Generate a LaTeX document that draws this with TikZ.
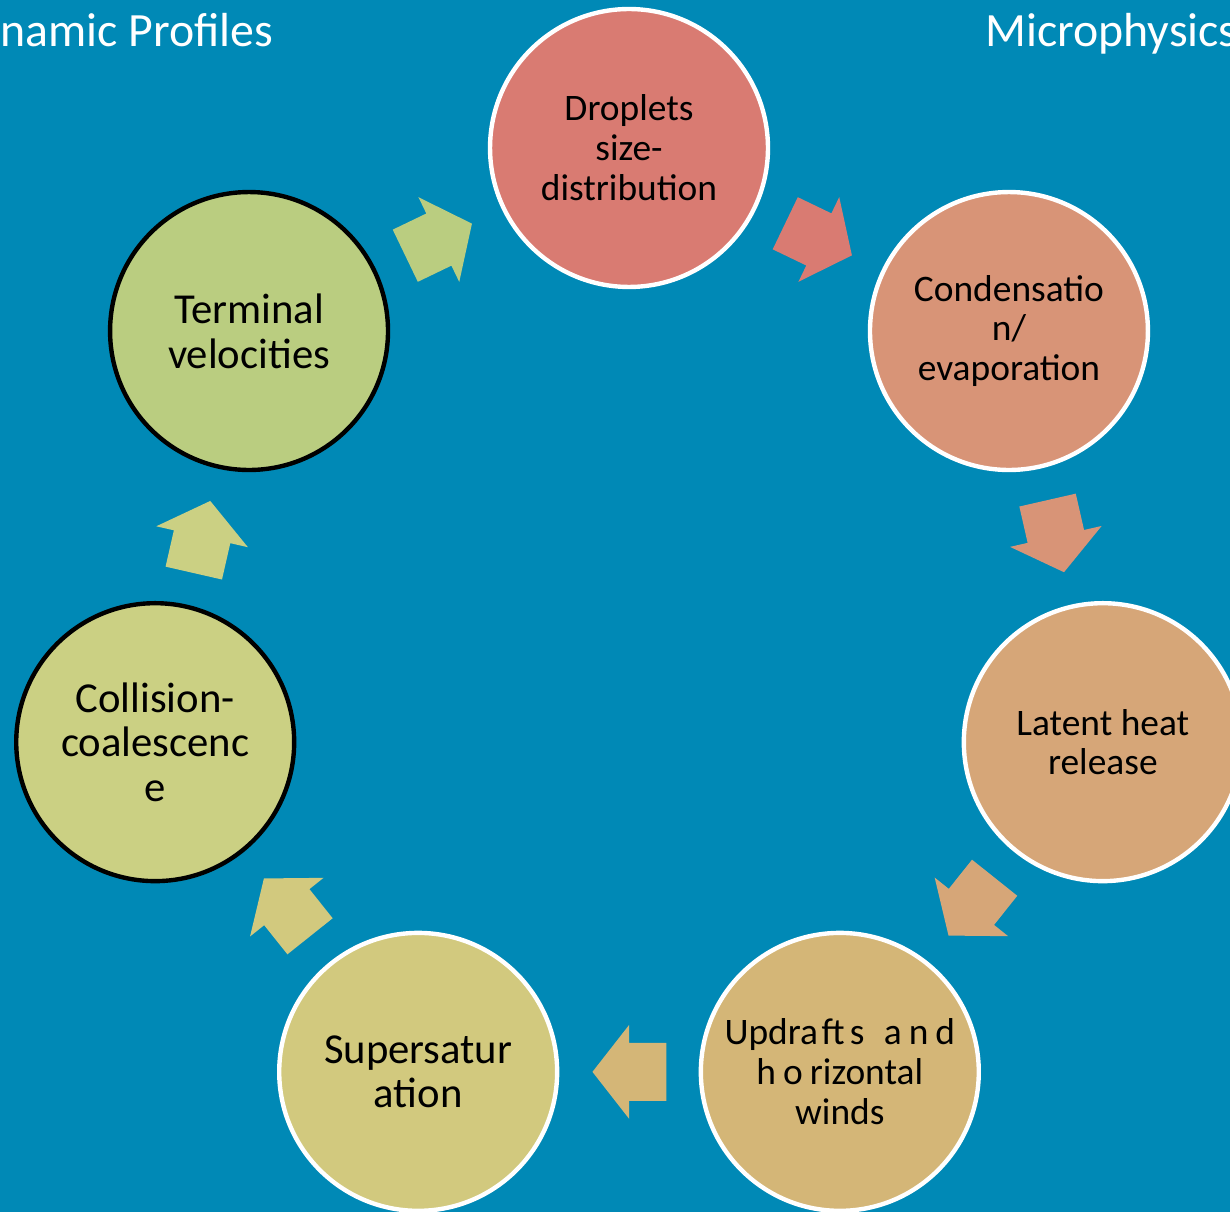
\documentclass[tikz,border=0pt]{standalone}
\usepackage{fontspec}
\setmainfont{Carlito}
\usetikzlibrary{shapes.arrows,calc}
\definecolor{bg}{RGB}{0,137,182}
\definecolor{cdrop}{RGB}{217,123,114}
\definecolor{ccond}{RGB}{216,148,119}
\definecolor{cheat}{RGB}{214,166,120}
\definecolor{cwind}{RGB}{212,182,119}
\definecolor{csat}{RGB}{210,201,126}
\definecolor{ccoll}{RGB}{203,208,131}
\definecolor{cterm}{RGB}{186,205,128}
\tikzset{
  stage/.style={circle, draw=white, line width=2.5pt, minimum size=5.56cm,
    inner sep=0pt, align=center, font=\fontsize{21.3}{22.7}\selectfont},
  big/.style={font=\fontsize{24.3}{25.5}\selectfont},
  flow/.style={single arrow, anchor=tip, inner xsep=0pt, inner ysep=0.57cm,
    minimum height=1.48cm, minimum width=1.88cm,
    single arrow head extend=0.36cm, single arrow tip angle=104},
  title/.style={anchor=base west, inner sep=0pt, text=white,
    font=\fontsize{27.2}{32}\selectfont}
}
\begin{document}
\begin{tikzpicture}[x=0.02cm, y=-0.02cm]
      \fill[bg] (0,0) rectangle (1230,1212);
      \useasboundingbox (0,0) rectangle (1230,1212);
      \clip (0,0) rectangle (1230,1212);
      \node[title] (dyn) at (0,47) {namic Profiles};
      \node[title] (micro) at (985,47) {Microphysics};
      \begin{scope}[shift={(629,634)}]
      \draw
        (-90.00:486) node[stage, fill=cdrop] (drop){Droplets\\size-\\distribution}
        (-38.57:486) node[stage, fill=ccond] (cond){Condensatio\\n/\\evaporation}
        (12.86:486) node[stage, fill=cheat] (heat){Latent heat\\release}
        (64.29:486) node[stage, fill=cwind] (wind){Updra\kern2pt ft\kern3pt s\hspace{11pt}a\kern4pt n\kern4pt d\\h\kern4pt o\kern4pt rizontal\\winds}
        (115.71:486) node[stage, big, fill=csat] (sat){Supersatur\\ation}
        (167.14:486) node[stage, big, draw=black, fill=ccoll] (coll){Collision-\\coalescenc\\e}
        (218.57:486) node[stage, big, draw=black, fill=cterm] (term){Terminal\\velocities};
      \end{scope}
      \begin{scope}[every node/.style={flow}]
        \node[fill=cdrop, rotate=-25.71] (a0) at ($(drop)!0.5!(cond)!0.74cm!(cond)$) {};
        \node[fill=ccond, rotate=-77.14] (a1) at ($(cond)!0.5!(heat)!0.74cm!(heat)$) {};
        \node[fill=cheat, rotate=-128.57] (a2) at ($(heat)!0.5!(wind)!0.74cm!(wind)$) {};
        \node[fill=cwind, rotate=180] (a3) at ($(wind)!0.5!(sat)!0.74cm!(sat)$) {};
        \node[fill=csat, rotate=128.57] (a4) at ($(sat)!0.5!(coll)!0.74cm!(coll)$) {};
        \node[fill=ccoll, rotate=77.14] (a5) at ($(coll)!0.5!(term)!0.74cm!(term)$) {};
        \node[fill=cterm, rotate=25.71] (a6) at ($(term)!0.5!(drop)!0.74cm!(drop)$) {};
      \end{scope}
    \end{tikzpicture}
\end{document}
